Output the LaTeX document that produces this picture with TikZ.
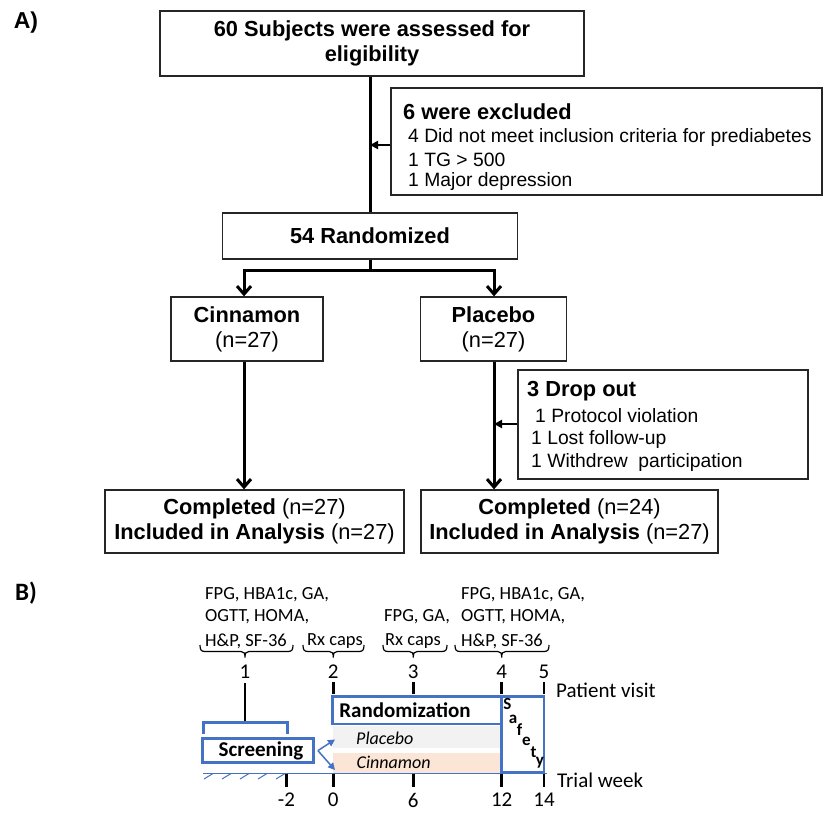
\documentclass[tikz,border=0pt]{standalone}
\usepackage{fontspec}
\setmainfont{Liberation Sans}
\newfontfamily\calfont{Carlito}
\usetikzlibrary{arrows.meta}
\definecolor{bl}{RGB}{68,114,196}
\definecolor{plc}{RGB}{242,242,242}
\definecolor{cin}{RGB}{251,229,214}
\newcommand\vbrace[3]{\draw[brc] (#1,645) .. controls (#1,649.5) and ({#1+1},651.5) .. ({#1+5},651.5) -- ({#2-4},651.5) .. controls ({#2-1},651.5) and (#2,653) .. (#2,657.5) .. controls (#2,653) and ({#2+1},651.5) .. ({#2+4},651.5) -- ({#3-5},651.5) .. controls ({#3-1},651.5) and (#3,649.5) .. (#3,645);}
\begin{document}
\begin{tikzpicture}[x=1pt,y=-1pt,
  fbox/.style={draw=black!85, line width=1.3pt, inner sep=0pt, align=center, font=\fontsize{21.8}{25}\selectfont},
  hd/.style={inner sep=0pt, anchor=west, font=\bfseries\fontsize{21.8}{25}\selectfont},
  lst/.style={inner sep=0pt, anchor=west, font=\fontsize{19.3}{22}\selectfont},
  mainln/.style={line width=3pt},
  mainarr/.style={line width=3pt, -{Straight Barb[length=8pt,width=14pt]}},
  thinarr/.style={line width=2pt, -{Triangle[length=8pt,width=8pt]}},
  blab/.style={inner sep=0pt, anchor=west, font=\calfont\fontsize{18.5}{22}\selectfont},
  num/.style={inner sep=0pt, font=\calfont\fontsize{21}{24}\selectfont},
  brc/.style={line width=1.2pt},
  tick/.style={line width=2.5pt},
  bbox/.style={draw=bl, line width=2.6pt},
  sl/.style={inner sep=0pt, font=\calfont\bfseries\fontsize{17}{20}\selectfont},
  bluearr/.style={draw=bl, line width=1.5pt, -{Triangle[length=7pt,width=7pt]}}
]
\useasboundingbox (0,0) rectangle (825,812);

% ---------------- Part A ----------------
\node[inner sep=0pt, font=\bfseries\fontsize{23}{26}\selectfont] (labA) at (26,23) {A)};

\node[fbox, minimum width=424pt, minimum height=65pt] (subj) at (372,43.5)
  {\textbf{60 Subjects were assessed for}\\\textbf{eligibility}};
\node[fbox, minimum width=431pt, minimum height=107pt] (excl) at (606.5,141.5) {};
\node[hd] (exh) at (403,111.5) {6 were excluded};
\node[lst] (ex1) at (408,138) {4 Did not meet inclusion criteria for prediabetes};
\node[lst] (ex2) at (408,160) {1 TG > 500};
\node[lst] (ex3) at (408,181.5) {1 Major depression};

\node[fbox, minimum width=295pt, minimum height=46pt] (rand) at (370,236) {\textbf{54 Randomized}};
\node[fbox, minimum width=152pt, minimum height=64pt] (cinb) at (247,329) {\textbf{Cinnamon}\\(n=27)};
\node[fbox, minimum width=146pt, minimum height=64pt] (plab) at (493.5,329) {\textbf{Placebo}\\(n=27)};

\node[fbox, minimum width=290pt, minimum height=109pt] (drop) at (663,424.5) {};
\node[hd] (drh) at (527,391) {3 Drop out};
\node[lst] (dr1) at (535,415.5) {1 Protocol violation};
\node[lst] (dr2) at (531,439.5) {1 Lost follow-up};
\node[lst] (dr3) at (531,463) {1 Withdrew\ \ participation};

\node[fbox, minimum width=299pt, minimum height=63pt] (compL) at (254.5,521.5)
  {\textbf{Completed} (n=27)\\\textbf{Included in Analysis} (n=27)};
\node[fbox, minimum width=297pt, minimum height=63pt] (compR) at (569.5,521.5)
  {\textbf{Completed} (n=24)\\\textbf{Included in Analysis} (n=27)};

\coordinate (jA) at (370,145);
\coordinate (bl1) at (244,270);
\coordinate (br1) at (494,270);
\coordinate (jB) at (494,424);

\draw[mainln] (rand.north |- subj.south) -- (rand.north);
\draw[thinarr] (excl.west |- jA) -- (jA);
\draw[mainarr] (rand.south) |- (bl1) -- (bl1 |- cinb.north);
\draw[mainarr] (rand.south) |- (br1) -- (br1 |- plab.north);
\draw[mainarr] (bl1 |- cinb.south) -- (bl1 |- compL.north);
\draw[mainarr] (br1 |- plab.south) -- (br1 |- compR.north);
\draw[thinarr] (drop.west |- jB) -- (jB);

% ---------------- Part B ----------------
\node[inner sep=0pt, font=\calfont\bfseries\fontsize{25}{28}\selectfont] (labB) at (26,593) {B)};

% text blocks
\node[blab] (t1a) at (205,595) {FPG, HBA1c, GA,};
\node[blab] (t1b) at (205,617) {OGTT, HOMA,};
\node[blab] (t1c) at (205,641) {H\&P, SF-36};
\node[blab] (t2a) at (307,641) {Rx caps};
\node[blab] (t3a) at (384,617) {FPG, GA,};
\node[blab] (t3b) at (385,641) {Rx caps};
\node[blab] (t4a) at (461,595) {FPG, HBA1c, GA,};
\node[blab] (t4b) at (461,617) {OGTT, HOMA,};
\node[blab] (t4c) at (461,641) {H\&P, SF-36};

\vbrace{200}{245}{293}
\vbrace{303}{333.3}{364}
\vbrace{383}{413.3}{447}
\vbrace{455}{501.7}{549}

% visit numbers
\node[num] (v1) at (245,672) {1};
\node[num] (v2) at (333.3,672) {2};
\node[num] (v3) at (413.3,672) {3};
\node[num] (v4) at (501.7,672) {4};
\node[num] (v5) at (544,672) {5};
\node[num, anchor=west] (pv) at (556,690) {Patient visit};

% bands
\fill[plc] (333,726) rectangle (501,748.3);
\fill[cin] (333,752.7) rectangle (501,773);
\node[inner sep=0pt, anchor=west, font=\calfont\itshape\fontsize{18}{21}\selectfont] (plt) at (356,738.5) {Placebo};
\node[inner sep=0pt, anchor=west, font=\calfont\itshape\fontsize{18}{21}\selectfont] (cit) at (356.5,762.5) {Cinnamon};

% axis
\draw[draw=bl, line width=1.3pt] (203,773.5) -- (547,773.5);
\foreach \hx in {211,229,247,265,283}
  \draw[draw=bl, line width=1pt] (\hx-7,779) -- (\hx+2,773.5);

% randomization & safety
\node[bbox, minimum width=169pt, minimum height=27.3pt, inner sep=0pt] (randB) at (417.2,710.3) {};
\node[inner sep=0pt, font=\calfont\bfseries\fontsize{21}{24}\selectfont] (rtx) at (405,710) {Randomization};
\node[bbox, minimum width=42.3pt, minimum height=76pt, inner sep=0pt] (safe) at (522.85,734.7) {};
\node[sl] (s1) at (507.5,704) {S};
\node[sl] (s2) at (513,719.5) {a};
\node[sl] (s3) at (519.5,729.5) {f};
\node[sl] (s4) at (526.5,741.5) {e};
\node[sl] (s5) at (533.5,752) {t};
\node[sl] (s6) at (540,763) {y};

% visit ticks
\draw[tick] (245,683) -- (245,721);
\foreach \vx in {333.3,413.3,501.7,544}
  \draw[tick] (\vx,682) -- (\vx,693.5);

% screening
\draw[draw=bl, line width=2.5pt] (203.3,733.5) -- (203.3,722.7) -- (287.3,722.7) -- (287.3,733.5);
\node[draw=bl, line width=3pt, minimum width=111pt, minimum height=24.5pt, inner sep=0pt] (scr) at (258.4,750.6) {};
\node[inner sep=0pt, font=\calfont\bfseries\fontsize{21}{24}\selectfont] (scrt) at (261,751) {Screening};
\coordinate (pa) at (335,739.5);
\coordinate (ca) at (335,770);
\draw[bluearr] (scr.east) ++(2.5,0) coordinate (sx) -- (pa);
\draw[bluearr] (sx) -- (ca);

% bottom ticks and week labels
\foreach \wx in {286.5,333.3,413.3,501.7,544}
  \draw[tick] (\wx,773.5) -- (\wx,787);
\node[num] (w1) at (286.5,800) {-2};
\node[num] (w2) at (333.3,800) {0};
\node[num] (w3) at (413.3,800) {6};
\node[num] (w4) at (501.7,800) {12};
\node[num] (w5) at (544,800) {14};
\node[num, anchor=west] (tw) at (557,780) {Trial week};
\end{tikzpicture}
\end{document}
